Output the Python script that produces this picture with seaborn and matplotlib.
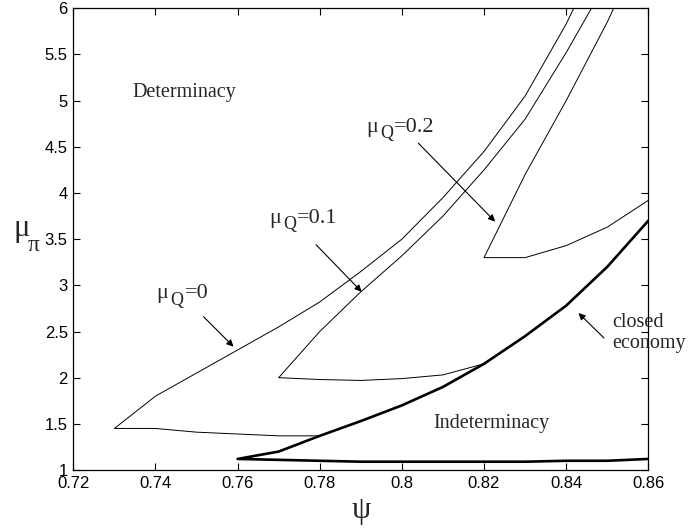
import matplotlib
matplotlib.use("Agg")
import matplotlib.pyplot as plt
import matplotlib.transforms as mtransforms
import seaborn as sns

# mu_Q = 0 boundary (lower branch then upper branch)
psi_q0_low = [0.78, 0.77, 0.76, 0.75, 0.74, 0.73]
mu_q0_low = [1.37, 1.37, 1.39, 1.41, 1.45, 1.45]
psi_q0_up = [0.74, 0.75, 0.76, 0.77, 0.78, 0.79, 0.80, 0.81, 0.82, 0.83, 0.84, 0.85]
mu_q0_up = [1.80, 2.05, 2.30, 2.55, 2.82, 3.15, 3.50, 3.95, 4.45, 5.05, 5.83, 6.75]

# mu_Q = 0.1 boundary
psi_q1_low = [0.82, 0.81, 0.80, 0.79, 0.78, 0.77]
mu_q1_low = [2.15, 2.03, 1.99, 1.97, 1.98, 2.00]
psi_q1_up = [0.78, 0.79, 0.80, 0.81, 0.82, 0.83, 0.84, 0.85]
mu_q1_up = [2.50, 2.93, 3.32, 3.75, 4.25, 4.80, 5.52, 6.30]

# mu_Q = 0.2 boundary
psi_q2_low = [0.86, 0.85, 0.84, 0.83, 0.82]
mu_q2_low = [3.92, 3.63, 3.43, 3.30, 3.30]
psi_q2_up = [0.83, 0.84, 0.85, 0.86]
mu_q2_up = [4.20, 5.00, 5.85, 6.80]

# closed economy (thick)
psi_ce_low = [0.86, 0.85, 0.84, 0.83, 0.82, 0.81, 0.80, 0.79, 0.78, 0.77, 0.76]
mu_ce_low = [1.12, 1.10, 1.10, 1.09, 1.09, 1.09, 1.09, 1.09, 1.10, 1.11, 1.12]
psi_ce_up = [0.77, 0.78, 0.79, 0.80, 0.81, 0.82, 0.83, 0.84, 0.85, 0.86]
mu_ce_up = [1.20, 1.37, 1.53, 1.70, 1.90, 2.15, 2.45, 2.78, 3.20, 3.70]

x_ticks = [0.72, 0.74, 0.76, 0.78, 0.80, 0.82, 0.84, 0.86]
x_tick_labels = ["0.72", "0.74", "0.76", "0.78", "0.8", "0.82", "0.84", "0.86"]
y_ticks = [1, 1.5, 2, 2.5, 3, 3.5, 4, 4.5, 5, 5.5, 6]
y_tick_labels = ["1", "1.5", "2", "2.5", "3", "3.5", "4", "4.5", "5", "5.5", "6"]

# mu_Q labels: text, label anchor, arrow start, arrow tip
q_labels = ["0", "0.1", "0.2"]
q_label_pos = [(0.7403, 2.86), (0.7677, 3.68), (0.7914, 4.665)]
q_arrow_from = [(0.7517, 2.66), (0.7791, 3.44), (0.8040, 4.54)]
q_arrow_to = [(0.7590, 2.336), (0.7902, 2.93), (0.8227, 3.69)]

sns.set_style("ticks")
plt.rcParams["font.family"] = ["Liberation Sans", "DejaVu Sans"]

fig = plt.figure(figsize=(6.88, 5.29), dpi=100)
ax = fig.add_axes([0.1066, 0.1115, 0.8357, 0.8728])

curves = [
    (psi_q0_low + psi_q0_up, mu_q0_low + mu_q0_up, 0.7),
    (psi_q1_low + psi_q1_up, mu_q1_low + mu_q1_up, 0.7),
    (psi_q2_low + psi_q2_up, mu_q2_low + mu_q2_up, 0.7),
    (psi_ce_low + psi_ce_up, mu_ce_low + mu_ce_up, 1.9),
]
for xs, ys, lw in curves:
    sns.lineplot(x=xs, y=ys, sort=False, estimator=None, color="black",
                 linewidth=lw, ax=ax)

ax.set_xlim(0.72, 0.86)
ax.set_ylim(1, 6)
ax.set_xticks(x_ticks)
ax.set_xticklabels(x_tick_labels)
ax.set_yticks(y_ticks)
ax.set_yticklabels(y_tick_labels)
ax.tick_params(direction="in", top=True, right=True, length=5, width=0.8,
               labelsize=12, colors="black", pad=4)
for s in ax.spines.values():
    s.set_linewidth(0.9)
    s.set_color("black")

serif = "Liberation Serif"
ax.set_xlabel("ψ", family=serif, fontsize=22, labelpad=4)
ax.set_ylabel("")

# y label: mu with pi subscript, drawn in figure coords
fig.text(13 / 688, 1 - 236 / 529, "μ", family=serif, fontsize=22, va="baseline")
fig.text(28 / 688, 1 - 251 / 529, "π", family=serif, fontsize=17, va="baseline")

ax.text(0.7344, 5.04, "Determinacy", family=serif, fontsize=14.5)
ax.text(0.8077, 1.45, "Indeterminacy", family=serif, fontsize=14.5)
ax.text(0.8511, 2.546, "closed", family=serif, fontsize=14.5, clip_on=False)
ax.text(0.8511, 2.32, "economy", family=serif, fontsize=14.5, clip_on=False)

arrow = dict(arrowstyle="-|>", color="black", lw=0.8, mutation_scale=10,
             shrinkA=0, shrinkB=0)
for lab, pos, a0, a1 in zip(q_labels, q_label_pos, q_arrow_from, q_arrow_to):
    ax.text(pos[0], pos[1], "μ", family=serif, fontsize=16)
    tq = mtransforms.offset_copy(ax.transData, fig=fig, x=10, y=-4.5, units="points")
    ax.text(pos[0], pos[1], "Q", family=serif, fontsize=13, transform=tq)
    tr = mtransforms.offset_copy(ax.transData, fig=fig, x=20, y=0, units="points")
    ax.text(pos[0], pos[1], "=" + lab, family=serif, fontsize=16, transform=tr)
    ax.annotate("", xy=a1, xytext=a0, arrowprops=arrow)
ax.annotate("", xy=(0.8430, 2.70), xytext=(0.8492, 2.43), arrowprops=arrow)

fig.savefig("out.png", dpi=100)
